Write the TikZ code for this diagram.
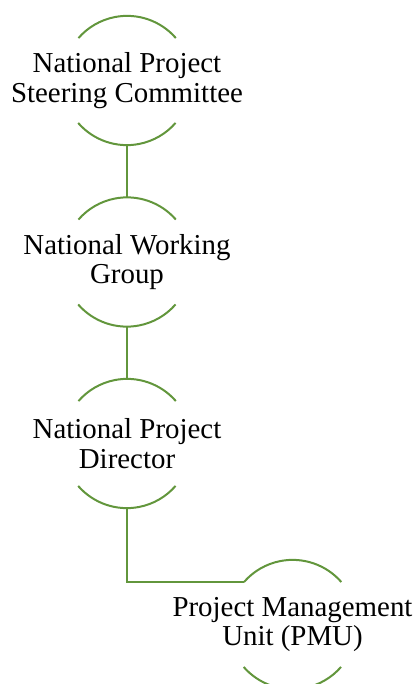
\documentclass[tikz,border=0pt]{standalone}
\usepackage{fontspec}
\setmainfont{Liberation Serif}
\definecolor{lgreen}{RGB}{98,150,60}
\begin{document}
\begin{tikzpicture}[x=1bp,y=-1bp,
  ring/.style={circle,draw=none,minimum size=129bp,inner sep=0pt},
  txt/.style={align=center,font=\fontsize{29}{30}\selectfont,inner sep=0pt},
  link/.style={draw=lgreen,line width=2bp},
  rim/.style={draw=lgreen,line width=2bp}]
\useasboundingbox (0,0) rectangle (418,684);
\node[ring] (c1) at (127,80.5) {};
\node[ring] (c2) at (127,262) {};
\node[ring] (c3) at (127,443.5) {};
\node[ring] (c4) at (292.5,624.5) {};
\foreach \c in {c1,c2,c3,c4}{
  \draw[rim] (\c.41) arc[start angle=41,end angle=139,radius=64.5bp];
  \draw[rim] (\c.221) arc[start angle=221,end angle=319,radius=64.5bp];
}
\node[txt] (t1) at (c1) {National Project\\Steering Committee};
\node[txt] (t2) at (c2) {National Working\\Group};
\node[txt] (t3) at (c3) {National Project\\Director};
\node[txt] (t4) at (c4) {Project Management\\Unit (PMU)};
\draw[link] (c1.south) -- (c2.north);
\draw[link] (c2.south) -- (c3.north);
\draw[link] (c3.south) |- (c4.139);
\end{tikzpicture}
\end{document}
